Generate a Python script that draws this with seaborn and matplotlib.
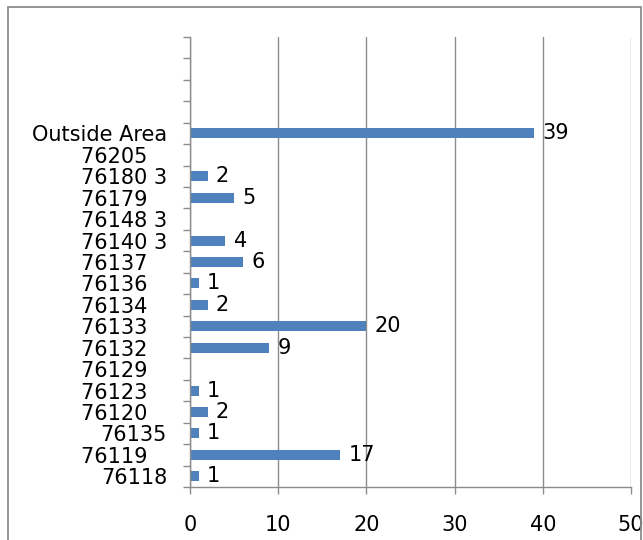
import numpy as np
import pandas as pd
import matplotlib.pyplot as plt
import seaborn as sns
from matplotlib.patches import Rectangle

# Zip codes, bottom to top, with visit counts (None = no bar)
zips = ["76118", "76119", "76135", "76120", "76123", "76129", "76132",
        "76133", "76134", "76136", "76137", "76140 3", "76148 3", "76179",
        "76180 3", "76205", "Outside Area"]
counts = [1, 17, 1, 2, 1, None, 9, 20, 2, 1, 6, 4, None, 5, 2, None, 39]
# labels drawn with trailing blanks in the original
padded = ["76119", "76120", "76123", "76129", "76132", "76133", "76134",
          "76136", "76137", "76179", "76205"]
n_blank = 4
x_ticks = [0, 10, 20, 30, 40, 50]

GRAY = "#8c8c8c"
BLUE = "#4F81BD"
FS = 15

sns.set_style("white")
plt.rcParams['font.family'] = ['DejaVu Sans']
plt.rcParams['text.color'] = 'black'
plt.rcParams['xtick.color'] = 'black'
plt.rcParams['ytick.color'] = 'black'

df = pd.DataFrame({"zip": zips, "count": counts}).dropna()
blanks = [" " * (i + 1) for i in range(n_blank)]
order = blanks + zips[::-1]

fig = plt.figure(figsize=(6.43, 5.40), dpi=100)
ax = fig.add_axes([190 / 643, 1 - 487 / 540, (631 - 190) / 643, (487 - 37) / 540])

sns.barplot(data=df, y="zip", x="count", order=order, orient="h",
            color=BLUE, saturation=1, width=0.47, linewidth=0, ax=ax)

ax.bar_label(ax.containers[0], fmt="{:.0f}", padding=6, fontsize=FS, color="black")

labels = [z + "   " if z in padded else z for z in order]
ax.set_yticks(range(len(order)))
ax.set_yticklabels(labels, fontsize=FS)
ax.set_yticks(np.arange(-0.5, len(order), 1), minor=True)
ax.set_ylim(len(order) - 0.5, -0.5)

ax.set_xlim(0, 50)
ax.set_xticks(x_ticks)
ax.set_xticklabels([str(t) for t in x_ticks], fontsize=FS)
ax.grid(axis="x", color=GRAY, lw=1)
ax.set_axisbelow(True)

ax.set_xlabel("")
ax.set_ylabel("")
ax.tick_params(axis="y", which="major", length=0, pad=16.5, labelcolor="black")
ax.tick_params(axis="y", which="minor", length=5, width=1, color=GRAY, direction="out", left=True)
ax.tick_params(axis="x", length=5, width=1, color=GRAY, direction="out", pad=15, bottom=True,
               labelcolor="black")

sns.despine(ax=ax, top=True, right=True)
for side in ["left", "bottom"]:
    ax.spines[side].set_color(GRAY)
    ax.spines[side].set_linewidth(1)

# chart area border
fig.patches.append(Rectangle((8 / 643, -0.1), (641 - 8) / 643, 1.1 - 7 / 540,
                             transform=fig.transFigure, fill=False,
                             edgecolor=GRAY, lw=1.3, clip_on=False))

fig.savefig("out.png", dpi=100)
